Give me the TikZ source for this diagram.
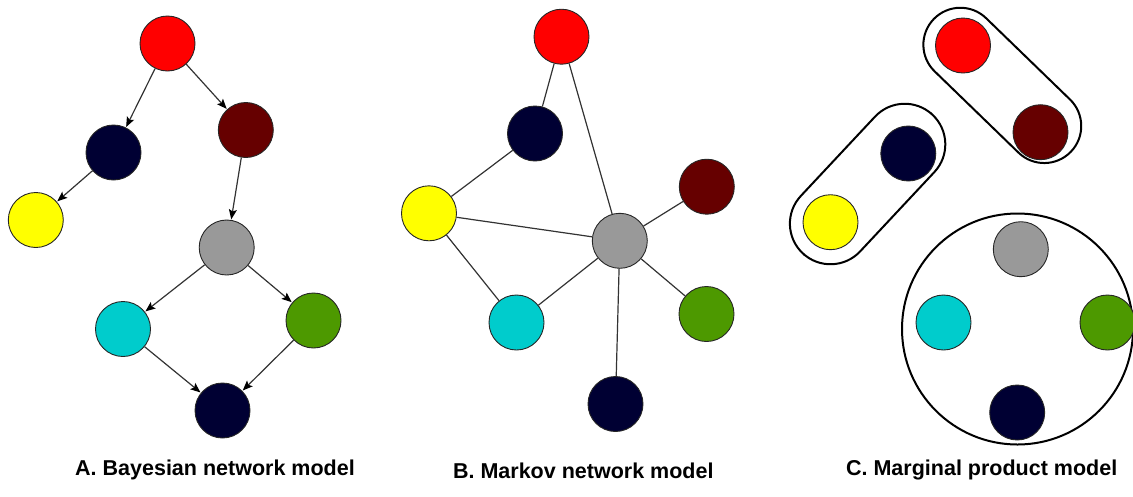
\documentclass[tikz,border=0pt]{standalone}
\usepackage{fontspec}
\setmainfont{Liberation Sans}
\usetikzlibrary{arrows.meta}

\definecolor{cred}{HTML}{FF0000}
\definecolor{cnavy}{HTML}{000033}
\definecolor{cmaroon}{HTML}{660000}
\definecolor{cyellow}{HTML}{FFFF00}
\definecolor{cgray}{HTML}{999999}
\definecolor{ccyan}{HTML}{00CCCC}
\definecolor{cgreen}{HTML}{4D9900}
\definecolor{edgegray}{HTML}{333333}

\tikzset{
  var/.style={circle, draw=black!85, line width=0.9pt, minimum size=55pt, inner sep=0pt},
  arc/.style={draw=edgegray, line width=1.2pt, -{Stealth[length=10pt,width=8pt,inset=2pt,color=black]}, shorten >=0.5pt},
  link/.style={draw=edgegray, line width=1.2pt},
  group/.style={draw=black, line width=2pt, rectangle, inner sep=0pt},
  caption/.style={anchor=base, font=\bfseries\fontsize{21.5}{26}\selectfont, inner sep=0pt}
}

\begin{document}
\begin{tikzpicture}[x=1pt, y=-1pt]
\useasboundingbox (0,0) rectangle (1133,496);

% ---------------- A: Bayesian network ----------------
\node[var, fill=cred]    (aR)  at (167.5,43.5)  {};
\node[var, fill=cnavy]   (aN)  at (113.5,152.5) {};
\node[var, fill=cmaroon] (aM)  at (245.8,130)   {};
\node[var, fill=cyellow] (aY)  at (35.8,220)    {};
\node[var, fill=cgray]   (aG)  at (226.7,247.5) {};
\node[var, fill=ccyan]   (aC)  at (123,329)     {};
\node[var, fill=cgreen]  (aGr) at (313.5,320.5) {};
\node[var, fill=cnavy]   (aN2) at (222.5,410.5) {};

\draw[arc] (aR) -- (aN);
\draw[arc] (aR) -- (aM);
\draw[arc] (aN) -- (aY);
\draw[arc] (aM) -- (aG);
\draw[arc] (aG) -- (aC);
\draw[arc] (aG) -- (aGr);
\draw[arc] (aC) -- (aN2);
\draw[arc] (aGr) -- (aN2);

\node[caption] (capA) at (215,475) {A. Bayesian network model};

% ---------------- B: Markov network ----------------
\node[var, fill=cred]    (bR)  at (561.5,36.7)  {};
\node[var, fill=cnavy]   (bN)  at (535,133.5)   {};
\node[var, fill=cmaroon] (bM)  at (706.8,186.7) {};
\node[var, fill=cyellow] (bY)  at (429,213.3)   {};
\node[var, fill=cgray]   (bG)  at (619.8,240.8) {};
\node[var, fill=ccyan]   (bC)  at (516.5,322.5) {};
\node[var, fill=cgreen]  (bGr) at (706.5,314)   {};
\node[var, fill=cnavy]   (bN2) at (615.5,404)   {};

\draw[link] (bR) -- (bN);
\draw[link] (bR) -- (bG);
\draw[link] (bN) -- (bY);
\draw[link] (bY) -- (bG);
\draw[link] (bY) -- (bC);
\draw[link] (bC) -- (bG);
\draw[link] (bG) -- (bM);
\draw[link] (bG) -- (bGr);
\draw[link] (bG) -- (bN2);

\node[caption] (capB) at (583.3,478) {B. Markov network model};

% ---------------- C: Marginal product model ----------------
\node[group, minimum width=190.8pt, minimum height=74pt, rounded corners=37pt, rotate=-44.1]
  (g1) at (1002.3,85.4) {};
\node[group, minimum width=189.8pt, minimum height=81.2pt, rounded corners=40.6pt, rotate=46.9]
  (g2) at (867.6,184.0) {};
\node[group, circle, minimum size=231pt] (g3) at (1017.5,329) {};

\node[var, fill=cred]    (cR)  at (963,45.5)    {};
\node[var, fill=cmaroon] (cM)  at (1040.5,132.2){};
\node[var, fill=cnavy]   (cN)  at (908.3,153.5) {};
\node[var, fill=cyellow] (cY)  at (830.5,222.2) {};
\node[var, fill=cgray]   (cG)  at (1020.8,249.2){};
\node[var, fill=ccyan]   (cC)  at (943.5,322.5) {};
\node[var, fill=cgreen]  (cGr) at (1107.5,322.5){};
\node[var, fill=cnavy]   (cN2) at (1017.2,412.5){};

\node[caption] (capC) at (981.7,475) {C. Marginal product model};
\end{tikzpicture}
\end{document}
